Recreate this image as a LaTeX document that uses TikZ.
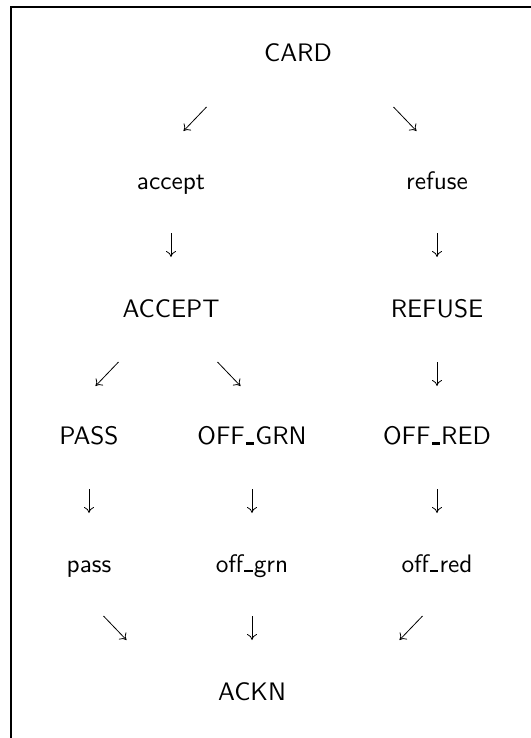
\documentclass[tikz,border=0pt]{standalone}
\usepackage{fontspec}
\setsansfont{lmsans10-regular.otf}
\usepackage{tikz}
\usetikzlibrary{arrows.meta}
% short low bar between the words of a name
\newcommand{\lowbar}{\kern.05em\rule{.32em}{.1em}\kern.05em}

\begin{document}
\begin{tikzpicture}[x=1bp, y=-1bp, >={Computer Modern Rightarrow[length=6bp,width=10bp]},
    lbl/.style={anchor=base, inner sep=0pt, font=\fontsize{25.3bp}{30bp}\selectfont\sffamily},
    arr/.style={->, line width=0.8bp}]
  \useasboundingbox (0,0) rectangle (531,738);
  % frame, open at the right and at the bottom
  \draw[line width=2bp] (531,6.7) -- (11.2,6.7) -- (11.2,738);
  % states and events
  \node[lbl] (card)   at (298,62)    {CARD};
  \node[lbl] (accept) at (171,189.6) {accept};
  \node[lbl] (refuse) at (437,189.6) {refuse};
  \node[lbl] (Accept) at (171,317.2) {ACCEPT};
  \node[lbl] (Refuse) at (437,317.2) {REFUSE};
  \node[lbl] (Pass)   at (89,444.8)  {PASS};
  \node[lbl] (OffGrn) at (252,444.8) {OFF\lowbar GRN};
  \node[lbl] (OffRed) at (437,444.8) {OFF\lowbar RED};
  \node[lbl] (pass)   at (89,572.4)  {pass};
  \node[lbl] (offgrn) at (252,572.4) {off\lowbar grn};
  \node[lbl] (offred) at (437,572.4) {off\lowbar red};
  \node[lbl] (ackn)   at (252,700)   {ACKN};
  % arrows: centre x / centre y / sideways step (-1 left, 0 down, 1 right)
  \foreach \k/\x/\y/\dx in {1/195/119/-1, 2/405/119/1,
      3/171/245/0, 4/437/245/0,
      5/107/374/-1, 6/229/374/1, 7/437/374/0,
      8/89/501/0, 9/252/501/0, 10/437/501/0,
      11/115/628/1, 12/252/628/0, 13/411/628/-1} {
    \coordinate (t\k) at ({\x-11.5*(\dx)},{\y-12});
    \coordinate (h\k) at ({\x+11.5*(\dx)},{\y+12});
    \draw[arr] (t\k) -- (h\k);
  }
\end{tikzpicture}
\end{document}
